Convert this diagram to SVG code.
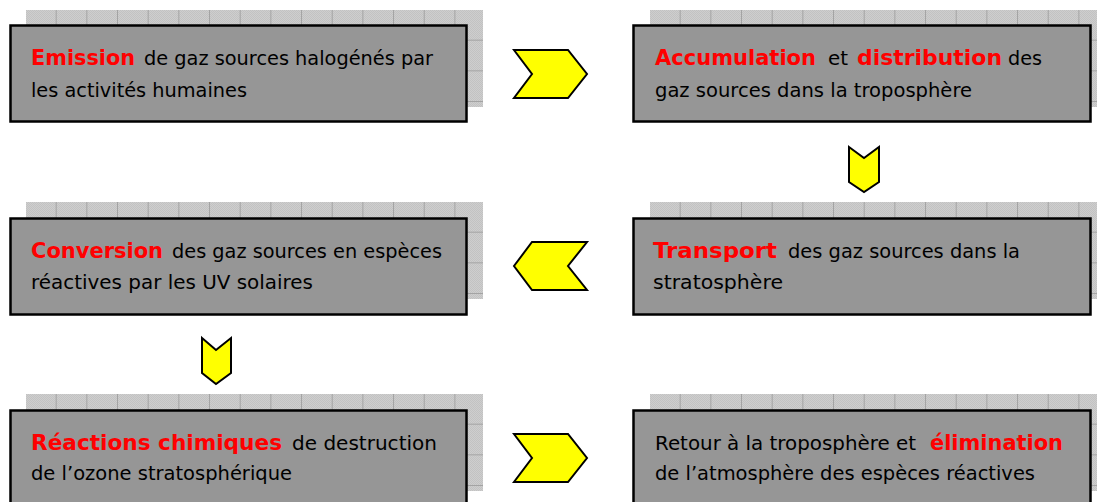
<svg xmlns="http://www.w3.org/2000/svg" width="1097" height="502" viewBox="0 0 1097 502">
  <style>
    .box { fill: #969696; stroke: #000; stroke-width: 2.5; }
    .gridbg { fill: url(#dither); }
    .gridln { fill: url(#cells); }
    .t { font-family: "DejaVu Sans", "Liberation Sans", sans-serif; font-size: 19.5px; fill: #000; }
    .r { font-family: "DejaVu Sans", "Liberation Sans", sans-serif; font-size: 21px; font-weight: bold; fill: #ff0000; }
    .chev { fill: #ffff00; stroke: #000; stroke-width: 2; stroke-linejoin: miter; }
  </style>
  <defs>
    <pattern id="dither" width="2" height="2" patternUnits="userSpaceOnUse">
      <rect width="2" height="2" fill="#cecece"/>
      <rect width="1" height="1" fill="#c2c2c2"/>
      <rect x="1" y="1" width="1" height="1" fill="#c2c2c2"/>
    </pattern>
    <pattern id="cells" width="30.67" height="30.67" patternUnits="userSpaceOnUse">
      <path d="M30.17 0 V30.67 M0 30.17 H30.67" stroke="#a3a3a3" stroke-width="1" fill="none"/>
    </pattern>
  </defs>
  <rect width="1097" height="502" fill="#fff"/>

  <g id="node-emission">
    <g transform="translate(26,10)"><rect class="gridbg" width="457" height="97"/><rect class="gridln" width="457" height="97"/></g>
    <rect class="box" x="10.5" y="25.5" width="456" height="96"/>
    <text class="r" x="31" y="65" textLength="104" lengthAdjust="spacingAndGlyphs">Emission</text>
    <text class="t" x="144" y="65" textLength="289" lengthAdjust="spacingAndGlyphs">de gaz sources halogénés par</text>
    <text class="t" x="31" y="97" textLength="216" lengthAdjust="spacingAndGlyphs">les activités humaines</text>
  </g>

  <g id="node-accumulation">
    <g transform="translate(650,10)"><rect class="gridbg" width="457" height="97"/><rect class="gridln" width="457" height="97"/></g>
    <rect class="box" x="633.5" y="25.5" width="457" height="96"/>
    <text class="r" x="655" y="65" textLength="161" lengthAdjust="spacingAndGlyphs">Accumulation</text>
    <text class="t" x="828" y="65" textLength="20" lengthAdjust="spacingAndGlyphs">et</text>
    <text class="r" x="857" y="65" textLength="145" lengthAdjust="spacingAndGlyphs">distribution</text>
    <text class="t" x="1008" y="65" textLength="34" lengthAdjust="spacingAndGlyphs">des</text>
    <text class="t" x="655" y="97" textLength="317" lengthAdjust="spacingAndGlyphs">gaz sources dans la troposphère</text>
  </g>

  <g id="node-conversion">
    <g transform="translate(26,202)"><rect class="gridbg" width="457" height="97"/><rect class="gridln" width="457" height="97"/></g>
    <rect class="box" x="10.5" y="218.5" width="456" height="96"/>
    <text class="r" x="31" y="258" textLength="132" lengthAdjust="spacingAndGlyphs">Conversion</text>
    <text class="t" x="172" y="258" textLength="270" lengthAdjust="spacingAndGlyphs">des gaz sources en espèces</text>
    <text class="t" x="31" y="289" textLength="282" lengthAdjust="spacingAndGlyphs">réactives par les UV solaires</text>
  </g>

  <g id="node-transport">
    <g transform="translate(650,202)"><rect class="gridbg" width="457" height="97"/><rect class="gridln" width="457" height="97"/></g>
    <rect class="box" x="633.5" y="218.5" width="457" height="96"/>
    <text class="r" x="653" y="258" textLength="124" lengthAdjust="spacingAndGlyphs">Transport</text>
    <text class="t" x="788" y="258" textLength="232" lengthAdjust="spacingAndGlyphs">des gaz sources dans la</text>
    <text class="t" x="653" y="289" textLength="130" lengthAdjust="spacingAndGlyphs">stratosphère</text>
  </g>

  <g id="node-reactions">
    <g transform="translate(26,394)"><rect class="gridbg" width="457" height="97"/><rect class="gridln" width="457" height="97"/></g>
    <rect class="box" x="10.5" y="410.5" width="456" height="100"/>
    <text class="r" x="31" y="450" textLength="251" lengthAdjust="spacingAndGlyphs">Réactions chimiques</text>
    <text class="t" x="292" y="450" textLength="145" lengthAdjust="spacingAndGlyphs">de destruction</text>
    <text class="t" x="31" y="480" textLength="261" lengthAdjust="spacingAndGlyphs">de l’ozone stratosphérique</text>
  </g>

  <g id="node-retour">
    <g transform="translate(650,394)"><rect class="gridbg" width="457" height="97"/><rect class="gridln" width="457" height="97"/></g>
    <rect class="box" x="633.5" y="410.5" width="457" height="100"/>
    <text class="t" x="655" y="450" textLength="261" lengthAdjust="spacingAndGlyphs">Retour à la troposphère et</text>
    <text class="r" x="930" y="450" textLength="133" lengthAdjust="spacingAndGlyphs">élimination</text>
    <text class="t" x="655" y="480" textLength="380" lengthAdjust="spacingAndGlyphs">de l’atmosphère des espèces réactives</text>
  </g>

  <g id="connectors">
    <polygon class="chev" points="514,50 568,50 587,74 568,98 514,98 532,74"/>
    <polygon class="chev" points="849,147 864,158 879,147 879,182 864,192 849,182"/>
    <polygon class="chev" points="587,242 532,242 514,266 532,290 587,290 568,266"/>
    <polygon class="chev" points="202,338 216,350 231,338 231,373 216,384 202,373"/>
    <polygon class="chev" points="514,434 568,434 587,458 568,482 514,482 532,458"/>
  </g>
</svg>
